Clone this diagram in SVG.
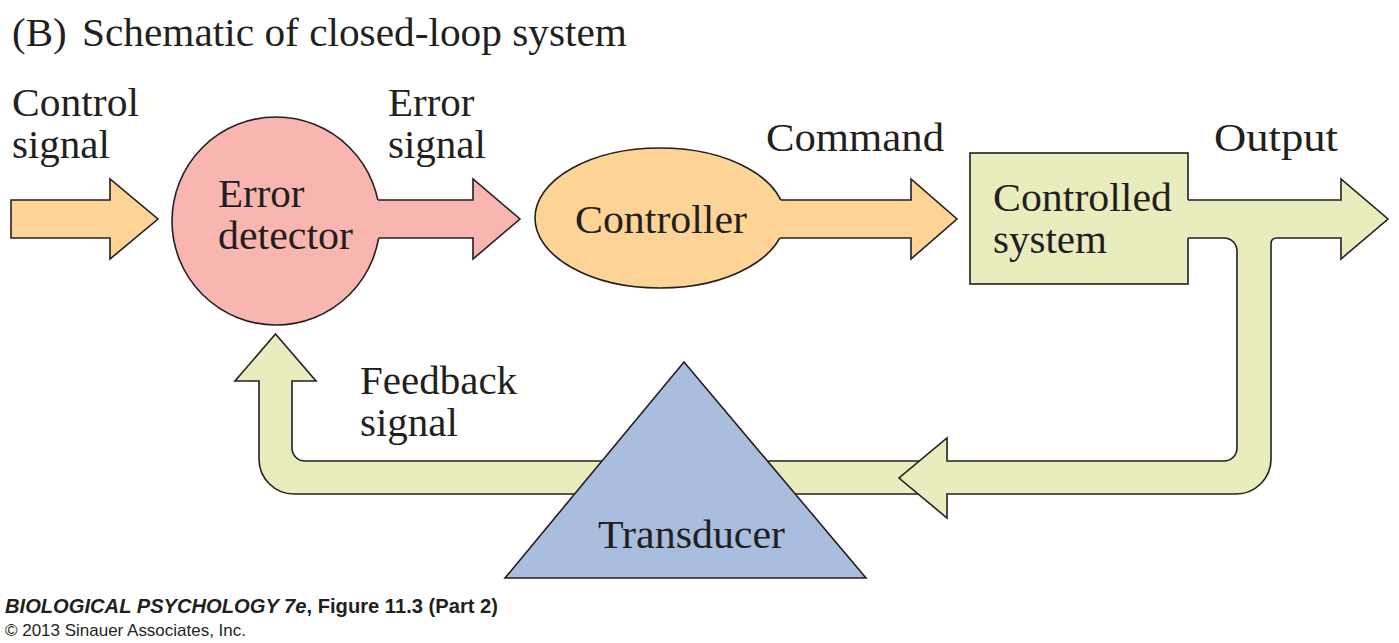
<svg xmlns="http://www.w3.org/2000/svg" width="1399" height="643" viewBox="0 0 1399 643">
<defs>
<style>
.t{font-family:"Liberation Serif","Times New Roman",serif;font-size:41px;fill:#231F20}
.ln{stroke:#231F20;stroke-width:1.6;stroke-linejoin:miter;fill:none}
.org{fill:#FDD495}
.pink{fill:#F9B5B0}
.grn{fill:#E9EDBE}
.blue{fill:#A9BDDE}
.ft{font-family:"Liberation Sans",Arial,sans-serif;fill:#231F20}
.fb{font-weight:bold}
</style>
</defs>
<rect width="1399" height="643" fill="#ffffff"/>
<text class="t" x="12" y="46" font-size="40">(B)</text>
<text class="t" x="82" y="46" font-size="40" textLength="545" lengthAdjust="spacingAndGlyphs">Schematic of closed-loop system</text>

<g id="connectors">
  <polygon class="org" points="11,200 110,200 110,179 158,219 110,259 110,238 11,238" stroke="#231F20" stroke-width="1.6"/>
  <path class="grn" d="M 925 461 H 305 A 13 13 0 0 1 292 448 V 381 H 316 L 275.5 334 L 235 381 H 259 V 459 A 35 35 0 0 0 294 494 H 925 Z" stroke="#231F20" stroke-width="1.6"/>
</g>

<g id="error-detector">
  <circle class="pink" cx="276" cy="221" r="104" stroke="#231F20" stroke-width="1.6"/>
  <text class="t" x="218" y="207">Error</text>
  <text class="t" x="218" y="249" textLength="135" lengthAdjust="spacingAndGlyphs">detector</text>
</g>

<g id="controller">
  <ellipse class="org" cx="660" cy="218" rx="125" ry="70" stroke="#231F20" stroke-width="1.6"/>
  <text class="t" x="575" y="233" textLength="172" lengthAdjust="spacingAndGlyphs">Controller</text>
</g>

<g id="controlled-system">
  <rect class="grn" x="970" y="153" width="218" height="131" stroke="#231F20" stroke-width="1.6"/>
  <text class="t" x="993" y="211" textLength="179" lengthAdjust="spacingAndGlyphs">Controlled</text>
  <text class="t" x="993" y="253">system</text>
</g>

<g id="connectors-2">
  <polygon class="pink" points="360,200 473,200 473,179 520,219 473,259 473,238 360,238"/>
  <polyline class="ln" points="378,200 473,200 473,179 520,219 473,259 473,238 378.6,238"/>
  <polygon class="org" points="770,200 911,200 911,179 957,219 911,259 911,238 770,238"/>
  <polyline class="ln" points="780.8,200 911,200 911,179 957,219 911,259 911,238 779.8,238"/>
  <path class="grn" d="M 1186 200 H 1341 V 179 L 1388 219 L 1341 259 V 238 H 1277 Q 1271 238 1271 244 V 459 A 35 35 0 0 1 1236 494 H 947 V 518 L 899 478 L 947 438 V 461 H 1224 A 13 13 0 0 0 1237 448 V 251 A 13 13 0 0 0 1224 238 H 1186 Z"/>
  <path class="ln" d="M 1188 200 H 1341 V 179 L 1388 219 L 1341 259 V 238 H 1277 Q 1271 238 1271 244 V 459 A 35 35 0 0 1 1236 494 H 947 V 518 L 899 478 L 947 438 V 461 H 1224 A 13 13 0 0 0 1237 448 V 251 A 13 13 0 0 0 1224 238 H 1188"/>
  <text class="t" x="12" y="116" textLength="127" lengthAdjust="spacingAndGlyphs">Control</text>
  <text class="t" x="12" y="158">signal</text>
  <text class="t" x="388" y="116">Error</text>
  <text class="t" x="388" y="158">signal</text>
  <text class="t" x="766" y="151" textLength="178" lengthAdjust="spacingAndGlyphs">Command</text>
  <text class="t" x="1214" y="151" textLength="124" lengthAdjust="spacingAndGlyphs">Output</text>
  <text class="t" x="360" y="394">Feedback</text>
  <text class="t" x="360" y="436">signal</text>
</g>

<g id="transducer">
  <polygon class="blue" points="684,362 505,578 866,578" stroke="#231F20" stroke-width="1.6" stroke-linejoin="miter"/>
  <text class="t" x="598" y="548" textLength="187" lengthAdjust="spacingAndGlyphs">Transducer</text>
</g>

<g id="footer">
  <text class="ft fb" x="5" y="613" font-size="19.5" textLength="493" lengthAdjust="spacingAndGlyphs"><tspan font-style="italic">BIOLOGICAL PSYCHOLOGY 7e</tspan>, Figure 11.3 (Part 2)</text>
  <text class="ft" x="5" y="636" font-size="17" textLength="241" lengthAdjust="spacingAndGlyphs">© 2013 Sinauer Associates, Inc.</text>
</g>
</svg>
